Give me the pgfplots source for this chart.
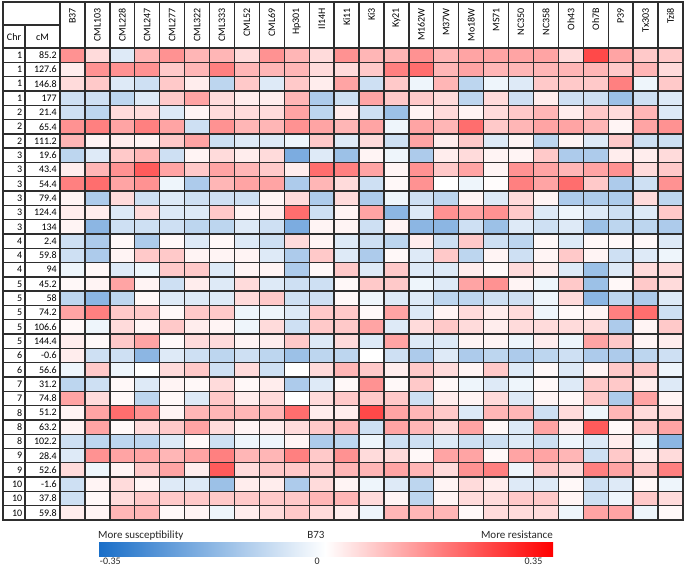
\documentclass[border=0pt]{standalone}
\usepackage{pgfplots}
\pgfplotsset{compat=1.18}
\usepackage{pgfplotstable}
\usepackage{fontspec}
\setmainfont{Carlito}

\pgfplotstableread[row sep=\\]{v\\
0.15\\0.05\\-0.05\\0.1\\0.15\\0.1\\0.1\\0.05\\0.15\\0.1\\0.05\\0.15\\0.1\\0.1\\0.15\\0.1\\0.125\\0.125\\0.125\\0.125\\0.05\\0.25\\0.125\\0.075\\0.075\\
0.025\\0.15\\0.15\\0.15\\0.075\\0.1\\0.175\\0.1\\0.1\\0.1\\0.05\\0.05\\0.075\\0.175\\0.2\\0.1\\0.125\\0.1\\0.1\\0.1\\0.1\\0.1\\0.075\\0.1\\0.05\\
0.05\\0.075\\-0.05\\-0.075\\0.075\\0.025\\-0.1\\0.075\\-0.05\\0.075\\0.025\\0.125\\-0.075\\0.075\\-0.025\\0.1\\-0.1\\-0.025\\-0.05\\0.075\\0.075\\0.075\\0.175\\-0.025\\0.075\\
-0.075\\-0.075\\-0.1\\-0.05\\0.075\\0.125\\0.05\\0.025\\0.025\\0.1\\-0.125\\-0.075\\0.125\\0.075\\0.075\\0.05\\-0.1\\0.05\\-0.075\\0.025\\-0.075\\-0.075\\-0.15\\-0.075\\-0.05\\
-0.075\\-0.1\\0.05\\0.05\\-0.05\\0.015\\0.05\\0.05\\0.05\\0.125\\-0.1\\0.025\\-0.075\\-0.15\\0.015\\0.05\\0.015\\0.05\\0.075\\0.1\\0.025\\0.075\\0.05\\0.1\\-0.05\\
0.15\\0.175\\0.125\\0.175\\0.125\\-0.075\\0.15\\0.1\\0.1\\0.15\\0.125\\0.1\\0.125\\-0.025\\0.125\\0.1\\0.2\\0.075\\0.1\\0.125\\0.125\\0.1\\0.015\\0.125\\0.15\\
0.1\\0.015\\0.025\\0.015\\0.075\\0.125\\-0.075\\-0.05\\-0.05\\-0.025\\0.075\\-0.05\\0.05\\-0.075\\0.125\\0.025\\0.075\\-0.05\\0.015\\-0.1\\0.015\\-0.05\\0.075\\-0.075\\-0.075\\
-0.1\\-0.05\\0.075\\0.1\\-0.075\\0.015\\0.05\\0.025\\0.05\\-0.2\\-0.05\\-0.15\\0.015\\-0.025\\-0.125\\0.025\\0.05\\0.015\\0.015\\0.075\\-0.125\\-0.125\\0.025\\0.025\\0.05\\
0.025\\0.1\\0.15\\0.225\\0.125\\0.075\\0.125\\0.1\\0.075\\0.025\\0.2\\0.175\\0.125\\0.015\\0.15\\0.075\\0.125\\0.015\\0.15\\0.125\\0.1\\0.125\\0.15\\0.05\\0.075\\
0.175\\0.2\\0.125\\0.15\\-0.025\\-0.125\\0.1\\0.125\\0.125\\-0.125\\0.1\\0.05\\-0.075\\0.01\\0.15\\0\\-0.025\\0.005\\0.175\\0.125\\0.2\\0.075\\-0.125\\-0.075\\0.15\\
0.015\\-0.125\\0.05\\-0.075\\-0.05\\-0.075\\-0.075\\-0.075\\0.015\\0.05\\-0.125\\0.05\\-0.125\\-0.025\\-0.075\\-0.1\\0.015\\-0.05\\0.05\\0.015\\-0.125\\-0.125\\-0.125\\0.05\\-0.1\\
0.025\\0.025\\-0.05\\0.05\\-0.05\\-0.05\\0.075\\0.015\\0.025\\0.2\\-0.075\\0.015\\0.125\\-0.175\\-0.05\\0.15\\0.125\\0.15\\0.075\\-0.05\\-0.025\\-0.05\\-0.075\\-0.05\\0.075\\
0.015\\-0.175\\-0.075\\-0.075\\-0.075\\-0.1\\-0.1\\-0.05\\-0.075\\-0.2\\0.015\\0.015\\-0.075\\0.015\\-0.175\\-0.175\\-0.075\\-0.15\\-0.05\\-0.075\\-0.05\\-0.15\\-0.1\\-0.1\\-0.125\\
-0.075\\-0.125\\0.01\\-0.125\\0.01\\-0.05\\0.01\\-0.05\\-0.075\\0.05\\0.015\\-0.05\\-0.075\\-0.1\\0.025\\-0.075\\0.075\\-0.075\\-0.1\\0.01\\-0.05\\0.01\\0.01\\0.01\\-0.05\\
-0.075\\-0.125\\0.015\\0.075\\0.075\\0.015\\0.015\\0.015\\-0.05\\-0.125\\0.075\\-0.05\\-0.125\\0.01\\-0.05\\0.075\\-0.1\\0.015\\-0.075\\0.015\\0.075\\0.015\\-0.075\\-0.05\\-0.025\\
-0.025\\0.01\\-0.05\\-0.025\\0.075\\0.075\\-0.05\\0.015\\0.015\\-0.125\\0.01\\0.075\\-0.05\\0.075\\-0.05\\-0.05\\0.025\\0.01\\0.05\\0.025\\-0.05\\-0.15\\-0.05\\0.05\\0.05\\
0.01\\0.015\\0.125\\0.015\\-0.075\\0.025\\-0.05\\0.05\\-0.05\\-0.075\\-0.075\\0.01\\0.075\\0.075\\-0.025\\-0.05\\0.125\\0.15\\0.015\\-0.025\\0.075\\-0.15\\0.01\\0.075\\0.05\\
-0.1\\-0.175\\-0.1\\0.01\\-0.05\\-0.05\\-0.05\\0.05\\0.075\\-0.075\\-0.075\\0.01\\-0.025\\-0.05\\-0.05\\-0.1\\-0.1\\-0.075\\-0.075\\-0.025\\0.05\\-0.175\\-0.1\\-0.125\\-0.05\\
0.125\\0.175\\0.075\\0.075\\0.01\\0.075\\0.075\\-0.025\\-0.025\\-0.05\\0.075\\0.075\\0.01\\0.125\\-0.05\\0.015\\0.05\\0.025\\0.05\\-0.025\\0.01\\0.015\\0.175\\0.2\\-0.075\\
0.01\\-0.025\\0.05\\0.015\\0.075\\0.025\\0.015\\-0.025\\0.05\\-0.075\\0.075\\0.075\\0.125\\-0.05\\0.05\\0.075\\0.05\\0.025\\0.05\\0.05\\0.05\\0.05\\-0.125\\0.015\\0.075\\
0.025\\0.01\\0.075\\0.125\\0.01\\0.05\\0.05\\0.015\\0.025\\0.075\\-0.05\\0.05\\-0.05\\0.125\\-0.05\\-0.05\\0.015\\0.015\\-0.025\\0.025\\-0.025\\0.125\\0.075\\0.015\\0.025\\
0.025\\-0.075\\-0.075\\-0.175\\-0.05\\-0.075\\-0.1\\-0.075\\-0.1\\-0.15\\-0.1\\-0.1\\0\\-0.075\\-0.125\\-0.05\\-0.125\\-0.1\\-0.125\\-0.1\\-0.075\\-0.125\\-0.125\\-0.1\\-0.075\\
-0.025\\0.075\\-0.025\\0\\0.05\\0.075\\-0.075\\0.05\\-0.075\\0\\0.05\\0.1\\0.075\\0.025\\0.075\\0.05\\0.015\\0.075\\-0.05\\0.01\\-0.05\\0.015\\0.075\\0.075\\-0.025\\
-0.1\\-0.075\\0.01\\-0.05\\0.015\\0.01\\0.05\\0.01\\0.025\\-0.125\\-0.05\\0.01\\0.15\\0.01\\0.075\\0.01\\-0.025\\-0.05\\-0.025\\0.01\\-0.05\\0.075\\0.075\\0.025\\-0.05\\
0.125\\0.05\\0.01\\-0.1\\0.01\\-0.05\\0.075\\0.025\\0.05\\0\\0.05\\0.075\\0.075\\0.075\\-0.075\\0.025\\0.015\\0.05\\-0.05\\0.015\\0.01\\0.075\\-0.125\\0.125\\0.015\\
0.015\\0.125\\0.2\\0.15\\0.015\\0.1\\0.1\\0.1\\0.1\\0.2\\0.025\\0.025\\0.25\\0.125\\0.1\\0.075\\-0.05\\0.1\\0.1\\-0.075\\0.05\\-0.025\\0.1\\0.05\\0.05\\
0.015\\0.125\\0.01\\0.05\\0.075\\0.125\\0.05\\0.015\\0.025\\0.05\\0.075\\0.1\\-0.075\\0.125\\0.1\\0.05\\0.125\\0.01\\-0.05\\0.125\\0.025\\0.225\\0.01\\0.075\\0.125\\
-0.075\\-0.1\\-0.1\\-0.1\\-0.05\\0.01\\-0.075\\-0.025\\-0.025\\0.015\\-0.125\\-0.1\\-0.025\\-0.075\\-0.075\\-0.05\\-0.075\\-0.075\\-0.05\\-0.075\\-0.025\\-0.05\\0.025\\-0.025\\-0.175\\
-0.05\\0.15\\0.125\\0.125\\0.1\\0.125\\0.175\\0.1\\0.1\\0.175\\0.075\\0.15\\0.05\\0.05\\0.01\\0.125\\0.125\\0.01\\0.125\\0.125\\0.1\\-0.075\\0.075\\0.025\\0.05\\
0.05\\-0.025\\0.015\\0.075\\0.125\\0.025\\0.225\\0.05\\0.075\\0.075\\0.075\\0.1\\0.1\\0.125\\0.1\\0.05\\0.15\\0.175\\-0.025\\0.075\\0.05\\0.175\\0.125\\0.075\\0.175\\
-0.075\\0.015\\0.05\\0.015\\-0.05\\-0.05\\-0.15\\0.025\\0.025\\-0.125\\0.05\\0.015\\-0.025\\-0.05\\-0.1\\0.015\\0.05\\0.025\\-0.05\\-0.05\\0.01\\-0.075\\-0.05\\0.01\\-0.025\\
-0.075\\0.01\\0.05\\0.075\\0.075\\0.075\\0.075\\0.075\\0.075\\0.075\\0.1\\0.1\\0.05\\0.015\\-0.1\\0.015\\0.05\\0.05\\0.075\\0.075\\0.015\\-0.075\\-0.025\\0.075\\0.05\\
0.025\\0.015\\0.1\\0.1\\0.01\\0.015\\-0.025\\0.025\\0.05\\0.075\\0.05\\0.025\\-0.025\\0.1\\0.1\\0.1\\0.01\\0.05\\0.05\\0.05\\-0.025\\0.125\\0.125\\-0.025\\0.01\\
}\gridvals

\begin{document}
\begin{tikzpicture}
\path[use as bounding box] (0pt,0pt) rectangle (685pt,-566pt);
\begin{axis}[
  at={(60pt,-520pt)}, anchor=south west,
  scale only axis, width=623pt, height=472pt,
  xmin=-0.5, xmax=24.5, ymin=-0.5, ymax=32.5, y dir=reverse,
  xtick={-0.5,0.5,...,24.5}, ytick={-0.5,0.5,...,32.5},
  xticklabels={}, yticklabels={},
  major tick length=0pt,
  grid=major, major grid style={draw=black!82, line width=1.35pt},
  axis on top, axis line style={draw=black!82, line width=1.35pt},
  /pgf/number format/assume math mode=true,
  colormap={excel}{rgb255=(25,110,200); rgb255=(255,255,255); rgb255=(255,0,0)},
  point meta min=-0.35, point meta max=0.35,
  colorbar horizontal,
  colorbar style={
    at={(parent axis.south west)}, anchor=north west,
    xshift=38pt, yshift=-14pt,
    scale only axis, width=455pt, height=14pt,
    xtick={-0.331,-0.013,0.32}, xticklabels={-0.35,0,0.35},
    major tick length=0pt, axis line style={draw=none}, grid=none,
    xticklabel style={font=\fontsize{10}{12}\selectfont, text=black!85, inner sep=0pt, yshift=-1pt},
  },
]
\addplot[matrix plot*, mesh/cols=25, point meta=explicit]
  table[x index=0, y index=0,
        x expr={\coordindex-25*floor((\coordindex+0.5)/25)},
        y expr={floor((\coordindex+0.5)/25)}, meta index=0] {\gridvals};
\end{axis}

\begin{scope}[line width=1.35pt, draw=black!82]
  \draw[line width=1.5pt] (3pt,-2pt) rectangle (683pt,-520pt);
  \draw (3pt,-48pt) -- (683pt,-48pt);
  \draw (3pt,-25pt) -- (60pt,-25pt);
  \draw (25pt,-25pt) -- (25pt,-520pt);
  \draw (60pt,-2pt) -- (60pt,-520pt);
  \foreach \k in {1,...,24} \draw ({(60+\k*24.92)*1pt},-2pt) -- ({(60+\k*24.92)*1pt},-48pt);
  \foreach \k in {1,...,32} \draw (3pt,{-(48+\k*14.30303)*1pt}) -- (60pt,{-(48+\k*14.30303)*1pt});
\end{scope}

\begin{scope}[every node/.style={font=\fontsize{10}{12}\selectfont, inner sep=0pt}]
  \node at (14pt,-37pt) {Chr};
  \node at (42.5pt,-37pt) {cM};
  \foreach \c/\m [count=\r from 0] in {1/85.2,1/127.6,1/146.8,1/177,2/21.4,2/65.4,2/111.2,3/19.6,3/43.4,3/54.4,3/79.4,3/124.4,3/134,4/2.4,4/59.8,4/94,5/45.2,5/58,5/74.2,5/106.6,5/144.4,6/-0.6,6/56.6,7/31.2,7/74.8,8/51.2,8/63.2,8/102.2,9/28.4,9/52.6,10/-1.6,10/37.8,10/59.8} {
    \node[anchor=east] at (22.5pt,{-(48+(\r+0.5)*14.30303)*1pt}) {\c};
    \node[anchor=east] at (57pt,{-(48+(\r+0.5)*14.30303)*1pt}) {\m};
  }
  \foreach \n [count=\i from 0] in {B37,CML103,CML228,CML247,CML277,CML322,CML333,CML52,CML69,Hp301,Il14H,Ki11,Ki3,Ky21,M162W,M37W,Mo18W,MS71,NC350,NC358,Oh43,Oh7B,P39,Tx303,Tzi8} {
    \node[rotate=90, anchor=east] at ({(60+(\i+0.5)*24.92)*1pt},-8pt) {\n};
  }
\end{scope}

\begin{scope}[every node/.style={font=\fontsize{11}{13}\selectfont, inner sep=0pt, text=black!85}]
  \node[anchor=base west] at (98pt,-538pt) {More susceptibility};
  \node[anchor=base] at (316pt,-538pt) {B73};
  \node[anchor=base east] at (553pt,-538pt) {More resistance};
\end{scope}
\end{tikzpicture}
\end{document}
